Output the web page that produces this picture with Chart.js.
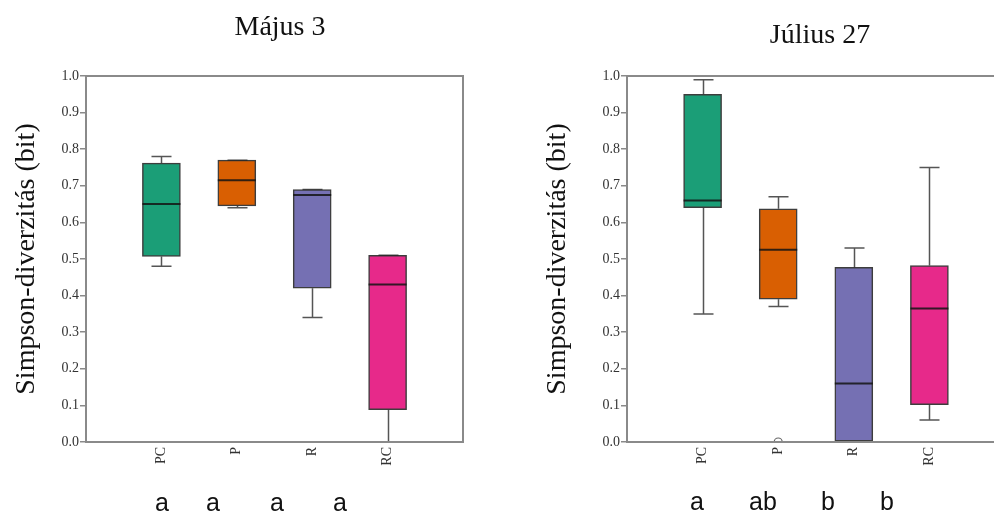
<!DOCTYPE html>
<html>
<head>
<meta charset="utf-8">
<script src="https://cdn.jsdelivr.net/npm/chart.js@4.4.1/dist/chart.umd.min.js"></script>
<style>
  html, body { margin: 0; padding: 0; background: #fff; overflow: hidden; }
  #page { position: relative; width: 994px; height: 515px; overflow: hidden; }
  .box { position: absolute; top: 0; height: 515px; }
  .title { position: absolute; font-family: 'Liberation Serif', serif; font-size: 28px; line-height: 28px; color: #111; white-space: nowrap; transform: translateX(-50%); }
  .letter { position: absolute; font-family: 'Liberation Sans', Arial, sans-serif; font-size: 25px; line-height: 25px; color: #111; white-space: nowrap; transform: translateX(-50%); }
</style>
</head>
<body>
<div id="page">
  <div class="box" style="left:0;width:497px"><canvas id="mayChart"></canvas></div>
  <div class="box" style="left:520px;width:519px"><canvas id="julChart"></canvas></div>
  <div class="title" style="left:280px;top:12px">Május 3</div>
  <div class="title" style="left:820px;top:20px">Július 27</div>
</div>
<script>
// groups on the x axis
const categories = ['PC', 'P', 'R', 'RC'];
const colors = ['#1b9e77', '#d95f02', '#7570b3', '#e7298a'];
const yTitle = 'Simpson-diverzitás (bit)';

// Május 3
const mayMin = [0.48, 0.64, 0.34, 0.00];
const mayQ1 = [0.507, 0.645, 0.42, 0.088];
const mayMed = [0.65, 0.715, 0.675, 0.43];
const mayQ3 = [0.762, 0.77, 0.69, 0.51];
const mayMax = [0.78, 0.77, 0.69, 0.51];
const mayOut = [[], [], [], []];
const mayLetters = ['a', 'a', 'a', 'a'];

// Július 27
const julMin = [0.35, 0.37, 0.00, 0.06];
const julQ1 = [0.64, 0.39, 0.00, 0.102];
const julMed = [0.66, 0.525, 0.16, 0.365];
const julQ3 = [0.95, 0.637, 0.477, 0.482];
const julMax = [0.99, 0.67, 0.53, 0.75];
const julOut = [[], [0.0], [], []];
const julLetters = ['a', 'ab', 'b', 'b'];

const yTicks = [0, 0.1, 0.2, 0.3, 0.4, 0.5, 0.6, 0.7, 0.8, 0.9, 1.0];

// whiskers, medians, outliers and the frame, drawn on the chart's scales
function boxParts(s) {
  return {
    id: 'boxParts',
    beforeDatasetsDraw(chart) {
      const { ctx, scales: { x, y } } = chart;
      ctx.save();
      ctx.strokeStyle = '#555';
      ctx.lineWidth = 1.5;
      s.min.forEach((mn, i) => {
        const cx = Math.round(x.getPixelForValue(i + 1)) + 0.5;
        ctx.beginPath();
        ctx.moveTo(cx, y.getPixelForValue(mn));
        ctx.lineTo(cx, y.getPixelForValue(s.q1[i]));
        ctx.moveTo(cx, y.getPixelForValue(s.q3[i]));
        ctx.lineTo(cx, y.getPixelForValue(s.max[i]));
        ctx.moveTo(cx - 10, y.getPixelForValue(mn));
        ctx.lineTo(cx + 10, y.getPixelForValue(mn));
        ctx.moveTo(cx - 10, y.getPixelForValue(s.max[i]));
        ctx.lineTo(cx + 10, y.getPixelForValue(s.max[i]));
        ctx.stroke();
      });
      ctx.restore();
    },
    afterDatasetsDraw(chart) {
      const { ctx, chartArea: a, scales: { x, y } } = chart;
      ctx.save();
      ctx.strokeStyle = 'rgba(20,20,20,0.85)';
      ctx.lineWidth = 2;
      s.med.forEach((m, i) => {
        const cx = x.getPixelForValue(i + 1);
        const my = y.getPixelForValue(m);
        ctx.beginPath();
        ctx.moveTo(cx - 19, my);
        ctx.lineTo(cx + 19, my);
        ctx.stroke();
      });
      // outliers
      ctx.save();
      ctx.beginPath();
      ctx.rect(a.left, a.top, a.right - a.left, a.bottom - a.top);
      ctx.clip();
      ctx.strokeStyle = '#666';
      ctx.lineWidth = 1.2;
      s.out.forEach((list, i) => {
        list.forEach(v => {
          ctx.beginPath();
          ctx.arc(x.getPixelForValue(i + 1), y.getPixelForValue(v), 4, 0, Math.PI * 2);
          ctx.stroke();
        });
      });
      ctx.restore();
      // frame
      ctx.strokeStyle = '#8a8a8a';
      ctx.lineWidth = 2;
      ctx.strokeRect(a.left, a.top, a.right - a.left, a.bottom - a.top);
      ctx.restore();
    }
  };
}

function makeChart(id, s, yWidth, titlePad, rightPad) {
  const labels = [''].concat(categories, ['']);
  const boxes = [null].concat(s.q1.map((q, i) => [q, s.q3[i]]), [null]);
  return new Chart(document.getElementById(id), {
    type: 'bar',
    data: {
      labels: labels,
      datasets: [{
        data: boxes,
        backgroundColor: c => colors[c.dataIndex - 1] || 'transparent',
        borderColor: 'rgba(40,40,40,0.9)',
        borderWidth: 1.5,
        borderSkipped: false,
        barThickness: 38
      }]
    },
    options: {
      responsive: true,
      maintainAspectRatio: false,
      animation: false,
      layout: { padding: { top: 76, right: rightPad, left: 0, bottom: 0 } },
      plugins: { legend: { display: false }, tooltip: { enabled: false } },
      scales: {
        x: {
          offset: false,
          grid: { display: false, drawTicks: false, offset: false },
          border: { display: false },
          ticks: {
            autoSkip: false, minRotation: 90, maxRotation: 90, padding: 5,
            color: '#333', font: { family: 'Liberation Serif', size: 14 }
          },
          afterFit: sc => { sc.height = 73; }
        },
        y: {
          min: 0, max: 1,
          afterBuildTicks: sc => { sc.ticks = yTicks.map(v => ({ value: v })); },
          grid: { drawOnChartArea: false, tickLength: 6, color: '#8a8a8a', lineWidth: 1.5 },
          border: { display: false },
          ticks: {
            padding: 1, color: '#333',
            font: { family: 'Liberation Serif', size: 14 },
            callback: v => v.toFixed(1)
          },
          title: {
            display: true, text: yTitle, color: '#111',
            font: { family: 'Liberation Serif', size: 28 },
            padding: { top: titlePad, bottom: 0 }
          },
          afterFit: sc => { sc.width = yWidth; }
        }
      }
    },
    plugins: [boxParts(s)]
  });
}

makeChart('mayChart', { min: mayMin, q1: mayQ1, med: mayMed, q3: mayQ3, max: mayMax, out: mayOut }, 86, 10, 34);
makeChart('julChart', { min: julMin, q1: julQ1, med: julMed, q3: julQ3, max: julMax, out: julOut }, 107, 21, 34);

// significance letters under each panel
const page = document.getElementById('page');
function addLetters(list, xs, top) {
  list.forEach((t, i) => {
    const d = document.createElement('div');
    d.className = 'letter';
    d.textContent = t;
    d.style.left = xs[i] + 'px';
    d.style.top = top + 'px';
    page.appendChild(d);
  });
}
addLetters(mayLetters, [162, 213, 277, 340], 490);
addLetters(julLetters, [697, 763, 828, 887], 489);
</script>
</body>
</html>
